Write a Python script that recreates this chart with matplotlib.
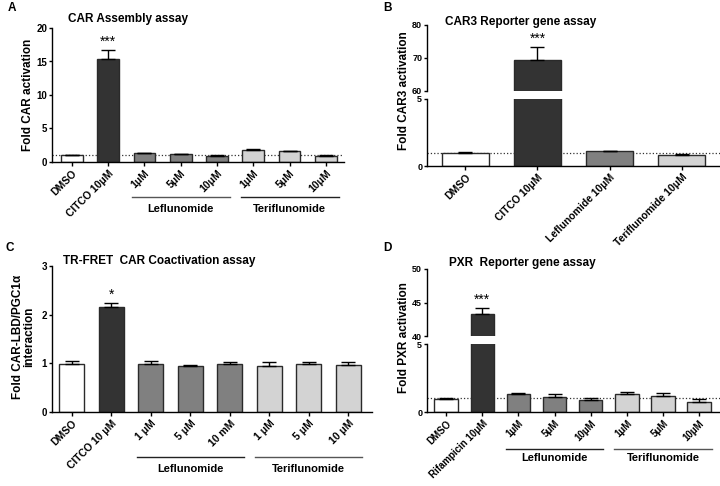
import matplotlib
matplotlib.use("Agg")
import matplotlib.pyplot as plt
import matplotlib.transforms as mtransforms

plt.rcParams['font.family'] = ['Liberation Sans', 'DejaVu Sans']
plt.rcParams['font.weight'] = 'bold'

W, H = 720, 486

# panel A - CAR assembly
a_labels = ['DMSO', 'CITCO 10μM', '1μM', '5μM', '10μM', '1μM', '5μM', '10μM']
a_vals = [1.0, 15.4, 1.3, 1.15, 0.93, 1.75, 1.58, 0.97]
a_err = [0.08, 1.35, 0.1, 0.08, 0.07, 0.12, 0.1, 0.07]

# panel B - CAR3 reporter
b_labels = ['DMSO', 'CITCO 10μM', 'Leflunomide 10μM', 'Teriflunomide 10μM']
b_vals = [0.95, 69.3, 1.1, 0.82]
b_err = [0.06, 4.1, 0.05, 0.05]

# panel C - TR-FRET
c_labels = ['DMSO', 'CITCO 10 μM', '1 μM', '5 μM', '10 mM', '1 μM', '5 μM', '10 μM']
c_vals = [0.99, 2.16, 0.99, 0.95, 0.98, 0.95, 0.99, 0.97]
c_err = [0.05, 0.09, 0.06, 0.02, 0.04, 0.07, 0.03, 0.06]

# panel D - PXR reporter
d_labels = ['DMSO', 'Rifampicin 10μM', '1μM', '5μM', '10μM', '1μM', '5μM', '10μM']
d_vals = [0.97, 43.3, 1.3, 1.1, 0.9, 1.36, 1.2, 0.77]
d_err = [0.09, 0.9, 0.12, 0.2, 0.14, 0.13, 0.2, 0.17]

colors8 = ['white', '#333333', '#808080', '#808080', '#808080', '#d3d3d3', '#d3d3d3', '#d3d3d3']
colors4 = ['white', '#333333', '#808080', '#d3d3d3']

fig = plt.figure(figsize=(7.2, 4.86), dpi=100)


def px_axes(l, t, r, b):
    return fig.add_axes([l / W, 1 - b / H, (r - l) / W, (b - t) / H])


def style(ax, ysize=7, bottom=True):
    ax.spines['top'].set_visible(False)
    ax.spines['right'].set_visible(False)
    ax.spines['left'].set_linewidth(1.0)
    ax.spines['bottom'].set_linewidth(1.0)
    ax.tick_params(axis='both', direction='out', length=3, width=1, pad=1.5)
    ax.tick_params(axis='y', labelsize=ysize, length=2.5, pad=1)
    if not bottom:
        ax.spines['bottom'].set_visible(False)
        ax.tick_params(axis='x', bottom=False, labelbottom=False)


def bars(ax, vals, err, colors, width):
    x = list(range(len(vals)))
    ax.bar(x, vals, width=width, color=colors, edgecolor='#2a2a2a', linewidth=1.0, zorder=2)
    ax.errorbar(x, vals, yerr=[[0] * len(vals), err], fmt='none', ecolor='black',
                elinewidth=1.0, capsize=5, capthick=1.0, zorder=3)
    return x


def xlabels(ax, labels, size=7.5):
    ax.set_xticks(range(len(labels)))
    ax.set_xticklabels(labels, rotation=45, ha='right', rotation_mode='anchor', fontsize=size, fontweight='bold')


def groups(ax, yline, ytext, col_l='#555555', col_t='#222222'):
    tr = mtransforms.blended_transform_factory(ax.transData, ax.transAxes)
    for (i0, i1, name, c) in [(2, 4, 'Leflunomide', col_l), (5, 7, 'Teriflunomide', col_t)]:
        ax.plot([i0 - 0.35, i1 + 0.35], [yline, yline], color=c, lw=1.0, transform=tr, clip_on=False)
        ax.text((i0 + i1) / 2, ytext, name, transform=tr, ha='center', va='top', fontsize=8, fontweight='bold')


def ylabel_px(x, y, s):
    fig.text(x / W, 1 - y / H, s, rotation=90, ha='center', va='center', fontsize=8.5, fontweight='bold')


# ---------------- A
axA = px_axes(52, 28, 344, 162)
bars(axA, a_vals, a_err, colors8, 0.6)
axA.set_ylim(0, 20)
axA.set_xlim(-0.55, 7.5)
axA.set_yticks([0, 5, 10, 15, 20])
style(axA)
xlabels(axA, a_labels)
axA.axhline(1, color='#333333', ls=':', lw=0.9, zorder=1)
axA.text(1, a_vals[1] + a_err[1] + 0.2, '***', ha='center', va='bottom', fontsize=10, fontweight='normal')
groups(axA, -0.26, -0.31)
ylabel_px(28, 95, 'Fold CAR activation')
fig.text(8 / W, 1 - 8 / H, 'A', fontsize=8.5, fontweight='bold', va='center')
fig.text(68 / W, 1 - 19 / H, 'CAR Assembly assay', fontsize=8.5, fontweight='bold', va='center')

# ---------------- B
axB = px_axes(427, 99, 720, 166)
axB2 = px_axes(427, 25, 720, 91)
for ax, lim in [(axB, (0, 5)), (axB2, (60, 80))]:
    bars(ax, b_vals, b_err, colors4, 0.65)
    ax.set_ylim(*lim)
    ax.set_xlim(-0.53, 3.53)
axB.set_yticks([0, 5])
axB2.set_yticks([60, 70, 80])
style(axB, ysize=6.5)
style(axB2, ysize=6.5, bottom=False)
xlabels(axB, b_labels)
axB.axhline(1, color='#333333', ls=':', lw=0.9, zorder=1)
axB2.text(1, b_vals[1] + b_err[1] + 0.3, '***', ha='center', va='bottom', fontsize=10, fontweight='normal')
ylabel_px(404, 91, 'Fold CAR3 activation')
fig.text(383 / W, 1 - 8 / H, 'B', fontsize=8.5, fontweight='bold', va='center')
fig.text(445 / W, 1 - 22 / H, 'CAR3 Reporter gene assay', fontsize=8.5, fontweight='bold', va='center')

# ---------------- C
axC = px_axes(52, 266, 372, 412)
bars(axC, c_vals, c_err, colors8, 0.63)
axC.set_ylim(0, 3)
axC.set_xlim(-0.5, 7.6)
axC.set_yticks([0, 1, 2, 3])
style(axC)
xlabels(axC, c_labels)
axC.text(1, c_vals[1] + c_err[1] + 0.02, '*', ha='center', va='bottom', fontsize=10, fontweight='normal')
groups(axC, -0.31, -0.355, col_l='#222222', col_t='#555555')
fig.text(18 / W, 1 - 337 / H, 'Fold CAR-LBD/PGC1α', rotation=90, ha='center', va='center', fontsize=8.5, fontweight='bold')
fig.text(29 / W, 1 - 337 / H, 'interaction', rotation=90, ha='center', va='center', fontsize=8.5, fontweight='bold')
fig.text(5 / W, 1 - 248 / H, 'C', fontsize=8.5, fontweight='bold', va='center')
fig.text(63 / W, 1 - 261 / H, 'TR-FRET  CAR Coactivation assay', fontsize=8.5, fontweight='bold', va='center')

# ---------------- D
axD = px_axes(427, 344, 720, 412)
axD2 = px_axes(427, 269, 720, 336)
for ax, lim in [(axD, (0, 5)), (axD2, (40, 50))]:
    bars(ax, d_vals, d_err, colors8, 0.65)
    ax.set_ylim(*lim)
    ax.set_xlim(-0.53, 7.58)
axD.set_yticks([0, 5])
axD2.set_yticks([40, 45, 50])
style(axD, ysize=6.5)
style(axD2, ysize=6.5, bottom=False)
xlabels(axD, d_labels, size=7)
axD.axhline(1, color='#333333', ls=':', lw=0.9, zorder=1)
axD2.text(1, d_vals[1] + d_err[1] + 0.2, '***', ha='center', va='bottom', fontsize=10, fontweight='normal')
groups(axD, -0.54, -0.61, col_l='#222222', col_t='#555555')
ylabel_px(404, 338, 'Fold PXR activation')
fig.text(383 / W, 1 - 248 / H, 'D', fontsize=8.5, fontweight='bold', va='center')
fig.text(449 / W, 1 - 263 / H, 'PXR  Reporter gene assay', fontsize=8.5, fontweight='bold', va='center')

fig.savefig('out.png', dpi=100, facecolor='white')
